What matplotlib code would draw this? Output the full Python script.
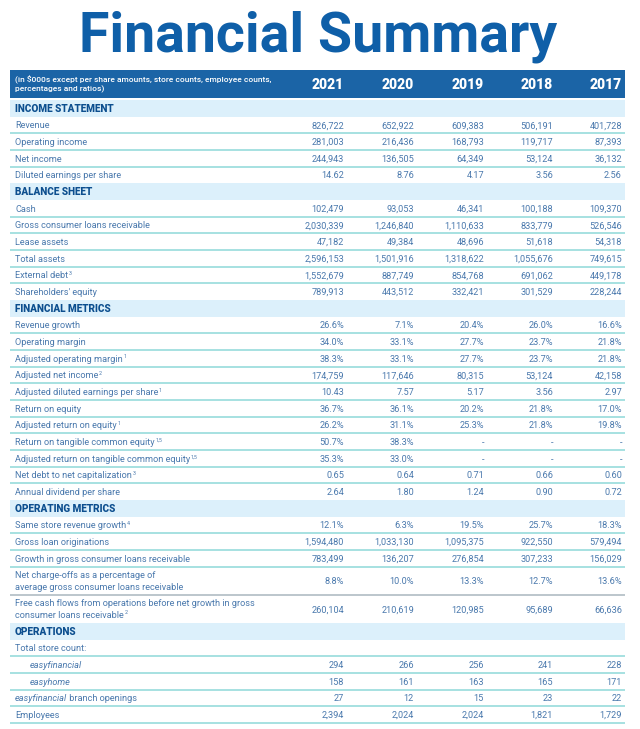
import matplotlib.pyplot as plt
from matplotlib.patches import Rectangle

plt.rcParams['font.family'] = ['Roboto', 'DejaVu Sans']

###################################################################
# DATA   ("^" starts a footnote mark, "*...*" is italic)
years = ['2021', '2020', '2019', '2018', '2017']

income_labels = ['Revenue', 'Operating income', 'Net income', 'Diluted earnings per share']
income_values = [
    ['826,722', '652,922', '609,383', '506,191', '401,728'],
    ['281,003', '216,436', '168,793', '119,717', '87,393'],
    ['244,943', '136,505', '64,349', '53,124', '36,132'],
    ['14.62', '8.76', '4.17', '3.56', '2.56'],
]

balance_labels = ['Cash', 'Gross consumer loans receivable', 'Lease assets', 'Total assets',
                  'External debt^3', "Shareholders' equity"]
balance_values = [
    ['102,479', '93,053', '46,341', '100,188', '109,370'],
    ['2,030,339', '1,246,840', '1,110,633', '833,779', '526,546'],
    ['47,182', '49,384', '48,696', '51,618', '54,318'],
    ['2,596,153', '1,501,916', '1,318,622', '1,055,676', '749,615'],
    ['1,552,679', '887,749', '854,768', '691,062', '449,178'],
    ['789,913', '443,512', '332,421', '301,529', '228,244'],
]

metrics_labels = ['Revenue growth', 'Operating margin', 'Adjusted operating margin^1',
                  'Adjusted net income^2', 'Adjusted diluted earnings per share^1',
                  'Return on equity', 'Adjusted return on equity^1',
                  'Return on tangible common equity^1,5',
                  'Adjusted return on tangible common equity^1,5',
                  'Net debt to net capitalization^3', 'Annual dividend per share']
metrics_values = [
    ['26.6%', '7.1%', '20.4%', '26.0%', '16.6%'],
    ['34.0%', '33.1%', '27.7%', '23.7%', '21.8%'],
    ['38.3%', '33.1%', '27.7%', '23.7%', '21.8%'],
    ['174,759', '117,646', '80,315', '53,124', '42,158'],
    ['10.43', '7.57', '5.17', '3.56', '2.97'],
    ['36.7%', '36.1%', '20.2%', '21.8%', '17.0%'],
    ['26.2%', '31.1%', '25.3%', '21.8%', '19.8%'],
    ['50.7%', '38.3%', '-', '-', '-'],
    ['35.3%', '33.0%', '-', '-', '-'],
    ['0.65', '0.64', '0.71', '0.66', '0.60'],
    ['2.64', '1.80', '1.24', '0.90', '0.72'],
]

opmetrics_labels = ['Same store revenue growth^4', 'Gross loan originations',
                    'Growth in gross consumer loans receivable',
                    'Net charge-offs as a percentage of\naverage gross consumer loans receivable',
                    'Free cash flows from operations before net growth in gross\nconsumer loans receivable^2']
opmetrics_values = [
    ['12.1%', '6.3%', '19.5%', '25.7%', '18.3%'],
    ['1,594,480', '1,033,130', '1,095,375', '922,550', '579,494'],
    ['783,499', '136,207', '276,854', '307,233', '156,029'],
    ['8.8%', '10.0%', '13.3%', '12.7%', '13.6%'],
    ['260,104', '210,619', '120,985', '95,689', '66,636'],
]

operations_labels = ['Total store count:', '*easyfinancial*', '*easyhome*',
                     '*easyfinancial* branch openings', 'Employees']
operations_values = [
    ['', '', '', '', ''],
    ['294', '266', '256', '241', '228'],
    ['158', '161', '163', '165', '171'],
    ['27', '12', '15', '23', '22'],
    ['2,394', '2,024', '2,024', '1,821', '1,729'],
]

sections = [
    ('INCOME STATEMENT', income_labels, income_values),
    ('BALANCE SHEET', balance_labels, balance_values),
    ('FINANCIAL METRICS', metrics_labels, metrics_values),
    ('OPERATING METRICS', opmetrics_labels, opmetrics_values),
    ('OPERATIONS', operations_labels, operations_values),
]
indented = ['*easyfinancial*', '*easyhome*']
###################################################################

title_color = '#0f5fa8'
head_color = '#1b64a6'
band_color = '#dcf0fb'
sect_color = '#0d4f8f'
text_color = '#4a79ad'
line_color = '#8ed8d8'

fig = plt.figure(figsize=(6.4, 7.29), dpi=100)
ax = fig.add_axes([0, 0, 1, 1])
ax.set_xlim(0, 640)
ax.set_ylim(729, 0)
ax.axis('off')
renderer = fig.canvas.get_renderer()

left, right = 10, 625
col_right = [344, 414, 484, 553, 622]
row_h = 16.67
dbl_h = 28.1
fs = 6.6
base_off = 3.3   # baseline below the row centre


def draw_label(x, yb, s):
    # plain / italic pieces then an optional raised footnote
    main, _, sup = s.partition('^')
    parts = main.split('*')
    for k, p in enumerate(parts):
        if not p:
            continue
        t = ax.text(x, yb, p, ha='left', va='baseline', fontsize=fs, color=text_color,
                    fontstyle='italic' if k % 2 else 'normal')
        x += t.get_window_extent(renderer).width  # 1 px == 1 data unit here
    if sup:
        ax.text(x + 0.5, yb - 3.5, sup, ha='left', va='baseline', fontsize=3.8, color=text_color)


# Title
ax.text(318, 51, 'Financial Summary', ha='center', va='baseline', fontsize=40,
        fontweight='bold', color=title_color)

# Header band
ax.add_patch(Rectangle((left, 70), right - left, 28, color=head_color, lw=0))
ax.text(15, 84, '(in $000s except per share amounts, store counts, employee counts,\npercentages and ratios)',
        ha='left', va='center', fontsize=6.0, color='white', linespacing=1.25, fontweight='medium')
for yr, xr in zip(years, col_right):
    ax.text(xr, 89, yr, ha='right', va='baseline', fontsize=10, fontweight='heavy', color='white')

y = 100
for si, (name, labels, values) in enumerate(sections):
    ax.add_patch(Rectangle((left, y), right - left, row_h, color=band_color, lw=0))
    ax.text(15, y + row_h / 2 + 3.6, name, ha='left', va='baseline', fontsize=7.2,
            fontweight='heavy', color=sect_color)
    y += row_h
    for ri, (lab, vals) in enumerate(zip(labels, values)):
        lines = lab.split('\n')
        h = dbl_h if len(lines) > 1 else row_h
        yc = y + h / 2
        x0 = 30 if lab in indented else 15
        for li, part in enumerate(lines):
            draw_label(x0, yc + base_off + (li - (len(lines) - 1) / 2) * 11.5, part)
        for v, xr in zip(vals, col_right):
            ax.text(xr, yc + base_off, v, ha='right', va='baseline', fontsize=fs, color=text_color)
        y += h
        last = ri == len(labels) - 1
        if not last or si == len(sections) - 1:
            lc = '#a9b6bf' if lab.startswith('Net charge-offs') else line_color
            ax.plot([left, right], [y, y], color=lc, lw=1.1, solid_capstyle='butt')

plt.savefig('out.png', dpi=100)
